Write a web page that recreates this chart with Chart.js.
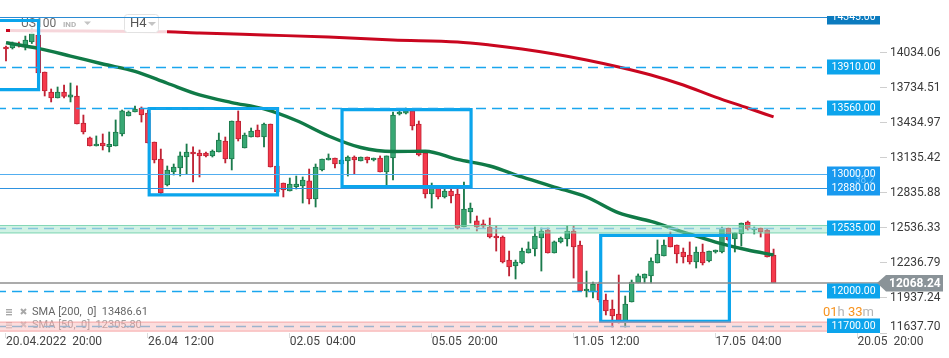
<!DOCTYPE html>
<html><head><meta charset="utf-8">
<script src="https://cdn.jsdelivr.net/npm/chart.js@4.4.1/dist/chart.umd.min.js"></script>
<style>html,body{margin:0;padding:0;background:#fff;overflow:hidden}canvas{display:block}</style>
</head><body>
<canvas id="c" width="949" height="358"></canvas>
<script>
// ---------- DATA ----------
const open=[14085,14077,14111,14102,14128,14188,13871,13700,13649,13700,
13657,13666,13435,13307,13238,13264,13232,13238,13341,13495,
13529,13563,13520,13272,13127,12904,13016,13050,13144,13187,
13178,13178,13153,13187,13281,13127,13452,13221,13315,13375,
13315,13426,13067,12921,12853,12890,12896,12939,12785,13033,
13118,13135,13084,13110,13144,13110,13144,13118,13135,13016,
13135,13512,13520,13538,13426,13178,12827,12879,12802,12853,
12827,12545,12673,12597,12571,12545,12468,12459,12262,12211,
12237,12322,12357,12451,12519,12322,12417,12442,12511,12391,
11997,11989,12057,11920,11843,11800,11732,11903,12066,12108,
12126,12237,12297,12476,12391,12331,12305,12245,12331,12254,
12331,12331,12536,12442,12485,12588,12519,12536,12519,12305];
const high=[14094,14128,14128,14179,14248,14205,13871,13726,13743,13760,
13777,13752,13503,13315,13324,13341,13358,13461,13546,13538,
13580,13572,13546,13272,13212,13067,13084,13187,13255,13230,
13204,13187,13204,13349,13315,13452,13538,13349,13392,13418,
13435,13426,13075,12921,12964,12981,12973,13041,13084,13127,
13170,13135,13118,13153,13153,13144,13144,13135,13153,13153,
13529,13546,13563,13546,13452,13178,12921,12887,12879,12879,
12879,12930,12750,12639,12605,12622,12553,12468,12339,12262,
12365,12417,12545,12536,12536,12425,12459,12553,12553,12425,
12168,12074,12074,11971,11920,12134,11954,12091,12143,12143,
12280,12434,12434,12502,12391,12365,12417,12374,12399,12339,
12348,12545,12536,12494,12579,12596,12545,12536,12528,12356];
const low=[13966,14068,14085,14060,14115,13854,13666,13615,13649,13649,
13615,13426,13341,13238,13238,13204,13187,13238,13324,13495,
13529,13443,13264,13093,12819,12896,12990,12981,12998,12930,
12973,13144,13144,13187,13093,13033,13281,13221,13315,13315,
13230,13058,12844,12802,12853,12870,12750,12742,12716,13024,
13118,13050,13084,12981,12998,13110,13093,13110,13016,12904,
12947,13503,13512,13375,13153,12793,12707,12785,12793,12750,
12528,12545,12579,12511,12536,12451,12339,12237,12126,12100,
12228,12322,12297,12168,12322,12322,12408,12382,12108,11997,
11946,11937,11903,11792,11689,11723,11689,11903,12066,12066,
12066,12237,12297,12374,12237,12237,12228,12194,12220,12245,
12322,12322,12425,12331,12382,12519,12485,12459,12288,12068.24];
const close=[14068,14115,14094,14145,14205,13863,13709,13649,13700,13662,
13675,13426,13358,13238,13255,13238,13253,13358,13538,13529,
13555,13503,13264,13118,12836,13033,13058,13153,13187,13170,
13153,13153,13195,13289,13127,13452,13298,13332,13366,13315,
13426,13058,12844,12862,12913,12913,12947,12785,13058,13127,
13135,13084,13118,13144,13118,13144,13118,13135,13016,13153,
13503,13529,13538,13409,13161,12827,12887,12802,12853,12810,
12536,12699,12707,12545,12553,12459,12451,12245,12203,12245,
12339,12357,12468,12511,12322,12417,12451,12511,12374,11997,
12014,12057,11920,11826,11783,11732,11886,12074,12126,12143,
12254,12314,12391,12374,12314,12288,12245,12331,12237,12339,
12348,12536,12434,12494,12579,12528,12536,12502,12288,12068.24];

const sma50Idx=[0,5,10,15,20,25,30,35,40,45,50,55,60,65,70,75,80,85,90,95,100,105,110,115,119];
const sma50=[14122,14073,14008,13940,13877,13775,13675,13610,13555,13456,13324,13225,13191,13193,13123,13067,12973,12887,12802,12665,12592,12502,12416,12348,12305.8];
const sma200Idx=[0,12,25,30,40,50,60,70,75,80,85,90,95,100,105,110,115,119];
const sma200=[14226,14222,14216,14205,14188,14171,14145,14128,14102,14068,14025,13974,13914,13846,13760,13657,13563,13486.61];

const xTickIdx=[0,22,44,66,88,110,132];
const xTickLabels=['20.04.2022  20:00','26.04  12:00','02.05  04:00','05.05  20:00','11.05  12:00','17.05  04:00','20.05  20:00'];
const yTicks=[11637.70,11937.24,12236.79,12536.33,12835.88,13135.42,13434.97,13734.51,14034.06];

const levelPrices=[14345,13910,13560,13000,12880,12535,12000,11700];
const levelLabels=['14345.00','13910.00','13560.00','13000.00','12880.00','12535.00','12000.00','11700.00'];
const currentPrice=12068.24;
const mintBand=[12490,12562];
const pinkBand=[11650,11735];

const rectX0=[-3,22.2,52.1,92.2];
const rectX1=[5.05,42.1,72.1,112.15];
const rectTop=[14312,13559,13550,12474];
const rectBottom=[13721,12819,12891,11738];

const smaLegend=['SMA [200,  0]  13486.61','SMA [50,  0]  12305.80'];
const countdown=['01','h ','33','m'];

// ---------- STYLES ----------
const levelDashed=[false,true,true,false,false,true,true,true];
const levelLineColor=['#2b8bd3','#1aa6ee','#1aa6ee','#52aef0','#2e92e0','#86c6dc','#1aa6ee','#9db3cc'];
const levelBoxColor=['#0b7bbf','#0ca4ec','#0ca4ec','#1899ef','#1899ef','#0ca4ec','#0ca4ec','#0ca4ec'];
const UP_FILL='#38a874',UP_BORDER='#1b7a4b',DN_FILL='#f53a4c',DN_BORDER='#bf2234';
const RECT_COLOR='#0ba5ec';

const idx=open.map((_,i)=>i);
const isUp=idx.map(i=>close[i]>=open[i]);

const datasets=[];
for(let r=0;r<rectX0.length;r++){
  datasets.push({type:'line',label:'rect'+r,isRect:true,order:0,
    data:[{x:rectX0[r],y:rectTop[r]},{x:rectX1[r],y:rectTop[r]},{x:rectX1[r],y:rectBottom[r]},{x:rectX0[r],y:rectBottom[r]},{x:rectX0[r],y:rectTop[r]}],
    borderColor:RECT_COLOR,borderWidth:3.2,pointRadius:0,tension:0,fill:false,borderJoinStyle:'miter',borderCapStyle:'square'});
}
datasets.push({type:'line',label:'SMA50',order:1,data:sma50Idx.map((x,k)=>({x,y:sma50[k]})),
  borderColor:'#107a47',borderWidth:3.4,pointRadius:0,cubicInterpolationMode:'monotone',fill:false});
datasets.push({type:'line',label:'SMA200',order:1,data:sma200Idx.map((x,k)=>({x,y:sma200[k]})),
  borderColor:'#c9061f',borderWidth:3,pointRadius:0,cubicInterpolationMode:'monotone',fill:false});
datasets.push({type:'bar',label:'body',order:2,grouped:false,data:idx.map(i=>({x:i,y:[open[i],close[i]]})),
  backgroundColor:idx.map(i=>isUp[i]?UP_FILL:DN_FILL),borderColor:idx.map(i=>isUp[i]?UP_BORDER:DN_BORDER),
  borderWidth:1,borderSkipped:false,barThickness:5,minBarLength:1});
datasets.push({type:'bar',label:'wick',order:3,grouped:false,data:idx.map(i=>({x:i,y:[low[i],high[i]]})),
  backgroundColor:idx.map(i=>isUp[i]?UP_BORDER:DN_BORDER),borderWidth:0,barThickness:1.2});

function drawHeader(ctx){
  ctx.save();
  ctx.fillStyle='rgba(255,255,255,0.84)';
  ctx.fillRect(10,16,157,18);
  ctx.textBaseline='middle';
  ctx.font='12px Roboto';ctx.fillStyle='#6a6a6a';ctx.fillText('US100',21,24);
  ctx.font='bold 8px Roboto';ctx.fillStyle='#b4b4b4';ctx.fillText('IND',63,24.5);
  ctx.fillStyle='#c4c4c4';ctx.beginPath();ctx.moveTo(84,21.5);ctx.lineTo(91,21.5);ctx.lineTo(87.5,25);ctx.closePath();ctx.fill();
  ctx.fillStyle='#fff';ctx.strokeStyle='#e2e2e2';ctx.lineWidth=1;
  ctx.beginPath();ctx.roundRect(124.5,14.5,34,18,3);ctx.fill();ctx.stroke();
  ctx.font='13px Roboto';ctx.fillStyle='#555';ctx.fillText('H4',130,24);
  ctx.fillStyle='#c4c4c4';ctx.beginPath();ctx.moveTo(148,22);ctx.lineTo(156,22);ctx.lineTo(152,26);ctx.closePath();ctx.fill();
  ctx.restore();
}

const overlay={
  id:'overlay',
  beforeDatasetsDraw(chart){chart.$hdr=false;},
  beforeDatasetDraw(chart,args){
    const ds=chart.data.datasets[args.index];
    if(!chart.$hdr && ds.isRect){chart.$hdr=true;drawHeader(chart.ctx);}
  },
  afterDatasetsDraw(chart){
    const ctx=chart.ctx,ys=chart.scales.y,a=chart.chartArea;
    ctx.save();
    // legend
    ctx.textBaseline='middle';
    const legY=[312,325],legCol=['#666','#a0a0a0'];
    for(let k=0;k<2;k++){
      const y=legY[k];
      ctx.fillStyle=k?'#c8c8c8':'#a8a8a8';
      ctx.fillRect(6,y-3,6,1.4);ctx.fillRect(6,y-0.5,6,1.4);ctx.fillRect(6,y+2,6,1.4);
      ctx.strokeStyle=k?'#c8c8c8':'#a8a8a8';ctx.lineWidth=2;
      ctx.beginPath();ctx.moveTo(21,y-3);ctx.lineTo(26,y+2);ctx.moveTo(26,y-3);ctx.lineTo(21,y+2);ctx.stroke();
      ctx.font='11px Roboto';ctx.fillStyle=legCol[k];ctx.fillText(smaLegend[k],32,y);
    }
    // bands
    const band=(b,fill,stroke)=>{
      const y1=ys.getPixelForValue(b[1]),y0=ys.getPixelForValue(b[0]);
      ctx.fillStyle=fill;ctx.fillRect(a.left,y1,a.right-a.left,y0-y1);
      ctx.strokeStyle=stroke;ctx.lineWidth=1;ctx.beginPath();
      ctx.moveTo(a.left,y1+0.5);ctx.lineTo(a.right,y1+0.5);ctx.moveTo(a.left,y0-0.5);ctx.lineTo(a.right,y0-0.5);ctx.stroke();
    };
    band(mintBand,'rgba(150,226,196,0.45)','rgba(105,205,165,0.75)');
    band(pinkBand,'rgba(248,165,165,0.38)','rgba(240,135,135,0.6)');
    // current price line
    const cy=Math.round(ys.getPixelForValue(currentPrice));
    ctx.strokeStyle='#8f8f8f';ctx.lineWidth=1.5;ctx.setLineDash([]);
    ctx.beginPath();ctx.moveTo(a.left,cy);ctx.lineTo(a.right,cy);ctx.stroke();
    // level lines
    ctx.beginPath();ctx.rect(a.left,a.top,a.right-a.left,a.bottom-a.top);ctx.clip();
    levelPrices.forEach((p,k)=>{
      const y=Math.round(ys.getPixelForValue(p))+0.5;
      ctx.strokeStyle=levelLineColor[k];
      ctx.lineWidth=levelDashed[k]?1.3:1;
      ctx.setLineDash(levelDashed[k]?[10,6]:[]);
      ctx.lineDashOffset=levelDashed[k]?4:0;
      ctx.beginPath();ctx.moveTo(a.left,y);ctx.lineTo(a.right,y);ctx.stroke();
    });
    ctx.setLineDash([]);
    // level boxes
    ctx.font='10.5px Roboto';ctx.textBaseline='middle';
    levelPrices.forEach((p,k)=>{
      const y=Math.round(ys.getPixelForValue(p));
      ctx.fillStyle=levelBoxColor[k];ctx.fillRect(827,y-7.5,54,15);
      ctx.fillStyle='#fff';ctx.fillText(levelLabels[k],831.5,y+0.5);
    });
    ctx.font='10px Roboto';ctx.fillStyle='rgba(140,210,255,0.75)';
    ctx.fillText('38.2',855,180.5);
    ctx.restore();
    // countdown
    ctx.save();
    ctx.font='13px Roboto';ctx.textBaseline='middle';
    let x=823;const cols=['#f7931e','#b5b5b5','#f7931e','#b5b5b5'];
    countdown.forEach((t,k)=>{ctx.fillStyle=cols[k];ctx.fillText(t,x,313);x+=ctx.measureText(t).width;});
    // current price box
    ctx.fillStyle='#8a9398';
    ctx.beginPath();ctx.moveTo(877,cy);ctx.lineTo(886,cy-8);ctx.lineTo(943,cy-8);ctx.lineTo(943,cy+8.5);ctx.lineTo(886,cy+8.5);ctx.closePath();ctx.fill();
    ctx.font='bold 12px Roboto';ctx.fillStyle='#fff';ctx.fillText(currentPrice.toFixed(2),889,cy+0.5);
    ctx.restore();
  }
};

const xMin=-0.93,xMax=135.5;
new Chart(document.getElementById('c'),{
  type:'bar',
  data:{datasets},
  options:{
    responsive:false,animation:false,events:[],
    layout:{padding:{top:16,left:0,right:0,bottom:0}},
    plugins:{legend:{display:false},tooltip:{enabled:false}},
    scales:{
      x:{type:'linear',min:xMin,max:xMax,offset:false,
        afterFit(s){s.height=25;},
        afterBuildTicks(s){s.ticks=xTickIdx.map(v=>({value:v}));},
        ticks:{autoSkip:false,maxRotation:0,align:'start',padding:-3.5,color:'#444',font:{family:'Roboto',size:12},
          callback(v){const k=xTickIdx.indexOf(v);return k>=0?xTickLabels[k]:'';}},
        grid:{drawOnChartArea:false,drawTicks:true,tickLength:5,color:'#dcdcdc',offset:false},
        border:{display:false}},
      y:{position:'right',min:11637.70,max:14350.6,
        afterFit(s){s.width=69;},
        afterBuildTicks(s){s.ticks=yTicks.map(v=>({value:v}));},
        ticks:{padding:3,color:'#3a3a3a',font:{family:'Roboto',size:12,lineHeight:1},
          callback(v){const t=Number(v).toFixed(2);return v===yTicks[0]?[t,'']:t;}},
        grid:{drawOnChartArea:false,drawTicks:true,tickLength:7,color:'#cfcfcf'},
        border:{display:false}}
    }
  },
  plugins:[overlay]
});
</script>
</body></html>
